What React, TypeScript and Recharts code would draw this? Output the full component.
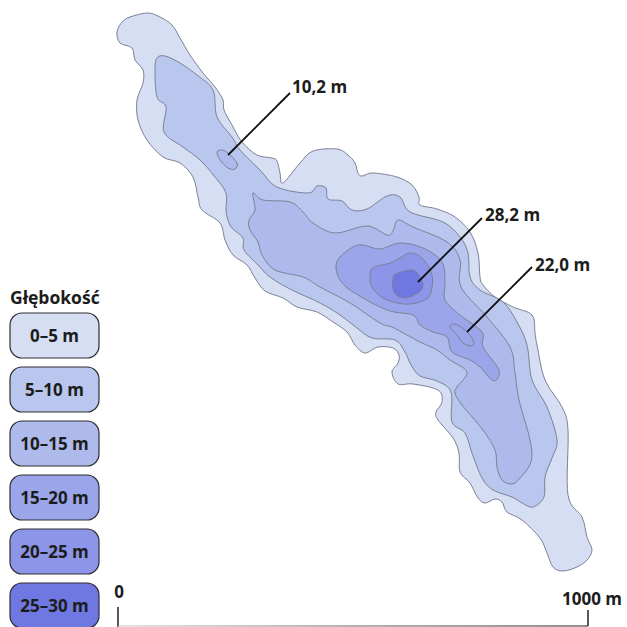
import React from 'react'
import { ScatterChart, Scatter, XAxis, YAxis, ReferenceArea, ReferenceDot } from 'recharts'

type Pt = [number, number]

const depth0: Pt[] = [
  [117,32],[123,21],[133,16],[148,13],[160,17],[172,25],[180,38],[190,55],[203,73],[215,87],[223,100],[224,110],[232,125],[242,142],[257,155],[272,158],[277,161],[280,173],[283,183],[300,163],[313,151],[337,149],[348,155],[355,163],[358,173],[362,176],[373,173],[397,177],[412,185],[419,197],[420,205],[437,209],[455,217],[470,232],[478,253],[480,277],[483,285],[495,297],[513,307],[532,315],[535,333],[537,345],[545,380],[562,407],[568,430],[568,495],[582,517],[587,537],[592,550],[587,560],[577,567],[563,571],[553,567],[547,553],[540,538],[522,520],[507,512],[502,502],[495,499],[485,503],[478,498],[470,483],[460,472],[459,453],[453,438],[438,420],[436,412],[442,402],[438,390],[413,384],[398,384],[392,372],[398,363],[399,355],[393,348],[378,347],[365,353],[355,345],[347,332],[333,322],[317,312],[297,307],[283,298],[265,291],[255,278],[247,265],[233,255],[225,240],[220,223],[202,210],[198,197],[193,177],[180,163],[163,157],[147,140],[138,120],[137,100],[143,83],[143,70],[135,60],[132,48],[120,43],
]
const depth5: Pt[] = [
  [157,58],[165,56],[180,63],[197,75],[213,90],[217,117],[232,137],[240,150],[260,170],[277,187],[308,193],[317,186],[326,188],[328,199],[342,201],[352,210],[367,209],[387,196],[400,197],[410,212],[443,222],[460,237],[468,253],[470,277],[480,290],[503,302],[517,322],[527,345],[532,380],[547,407],[557,440],[552,458],[545,477],[544,497],[533,507],[522,503],[512,497],[493,490],[482,478],[472,453],[465,433],[452,422],[451,392],[437,381],[420,376],[411,365],[405,352],[395,340],[372,338],[357,328],[340,315],[320,303],[290,289],[270,277],[258,265],[244,250],[243,238],[232,228],[228,220],[226,210],[226,193],[215,177],[200,160],[183,147],[164,132],[166,107],[157,97],[155,70],
]
const depth10: Pt[] = [
  [253,193],[263,200],[290,202],[303,212],[313,223],[335,233],[367,226],[387,235],[393,231],[398,220],[413,227],[447,242],[460,260],[461,287],[487,317],[510,347],[515,373],[519,400],[530,440],[531,462],[520,478],[512,484],[502,480],[497,467],[495,450],[483,430],[462,405],[455,393],[457,387],[467,372],[450,360],[437,350],[420,342],[407,335],[392,327],[380,323],[350,303],[320,287],[303,277],[275,270],[262,255],[258,242],[250,230],[249,220],[255,210],
]
const depth15: Pt[] = [
  [336,267],[340,257],[353,247],[363,245],[380,249],[400,243],[423,248],[442,262],[445,283],[445,300],[460,315],[482,332],[483,347],[498,368],[498,378],[492,380],[480,367],[470,360],[452,352],[447,337],[433,332],[420,325],[413,315],[387,310],[353,292],[340,280],
]
const depth20: Pt[] = [
  [370,277],[373,268],[390,263],[400,258],[410,253],[422,258],[432,275],[430,295],[420,302],[403,304],[383,298],[372,287],
]
const depth25: Pt[] = [
  [393,278],[398,273],[413,270],[420,277],[423,286],[418,293],[404,298],[394,292],
]
const pool10: Pt[] = [
  [217,152],[222,150],[228,153],[237,163],[235,169],[228,168],[220,160],
]
const pool22: Pt[] = [
  [450,327],[455,324],[465,330],[473,340],[472,346],[463,343],[457,335],
]

const contours = [depth0, depth5, depth10, depth15, depth20, depth25, pool10, pool22]
const contourColors = ['#d5def3', '#b9c6ee', '#aebaec', '#9ba6ea', '#8c95e7', '#6f78e0', '#aebaec', '#9ba6ea']

const leaders: Pt[][] = [
  [[228,155],[290,93]],
  [[418,282],[482,218]],
  [[467,332],[532,267]],
]
const depthLabels = ['10,2 m', '28,2 m', '22,0 m']
const depthLabelAt: Pt[] = [[292,87], [485,215], [535,265]]

const legendTitle = 'Głębokość'
const legendRanges = ['0–5 m', '5–10 m', '10–15 m', '15–20 m', '20–25 m', '25–30 m']
const legendColors = ['#d5def3', '#b9c6ee', '#aebaec', '#9ba6ea', '#8c95e7', '#6f78e0']
const legendTops = [313, 367, 421, 475, 529, 583]

const scaleTicks: Pt[][] = [
  [[118,607],[118,627]],
  [[588,610],[588,626]],
]
const scaleBase: Pt[] = [[118,626],[588,626]]

const FONT = '"Open Sans", sans-serif'
const toRows = (pts: Pt[]) => pts.map(([x, y]) => ({ x, y }))

// closed catmull-rom through the pixel-scaled points
const closedPath = (p: { x: number; y: number }[]) => {
  const n = p.length
  let d = `M${p[0].x},${p[0].y}`
  for (let i = 0; i < n; i++) {
    const a = p[(i - 1 + n) % n], b = p[i], c = p[(i + 1) % n], e = p[(i + 2) % n]
    const c1x = b.x + (c.x - a.x) / 6, c1y = b.y + (c.y - a.y) / 6
    const c2x = c.x - (e.x - b.x) / 6, c2y = c.y - (e.y - b.y) / 6
    d += `C${c1x},${c1y},${c2x},${c2y},${c.x},${c.y}`
  }
  return d + 'Z'
}

const Text = (value: string, anchor: 'start' | 'middle' = 'start', size = 17) => (props: any) => (
  <text x={props.cx} y={props.cy} dy="0.35em" textAnchor={anchor} fontFamily={FONT} fontWeight={700} fontSize={size} fill="#1c1c1c">{value}</text>
)

const App: React.FC = () => {
  return (
    <div style={{ position: 'absolute', left: 0, top: 0, width: 627, height: 627, overflow: 'hidden', background: '#fff' }}>
      <ScatterChart width={640} height={640} margin={{ top: 0, right: 0, bottom: 0, left: 0 }}>
        <defs>
          <linearGradient id="scaleFade" gradientUnits="userSpaceOnUse" x1="118" y1="0" x2="588" y2="0">
            <stop offset="0" stopColor="#c8c8c8" />
            <stop offset="0.5" stopColor="#666" />
            <stop offset="1" stopColor="#222" />
          </linearGradient>
        </defs>
        <XAxis type="number" dataKey="x" domain={[0, 640]} hide />
        <YAxis type="number" dataKey="y" domain={[0, 640]} reversed hide />

        {contours.map((pts, i) => (
          <Scatter
            key={i}
            data={toRows(pts)}
            shape={() => null}
            line={(props: any) => (
              <path key="contour" d={closedPath(props.points)} fill={contourColors[i]} stroke="#7c8196" strokeWidth={1} />
            )}
            isAnimationActive={false}
          />
        ))}

        {leaders.map((pts, i) => (
          <Scatter
            key={i}
            data={toRows(pts)}
            shape={() => null}
            line={{ stroke: '#111', strokeWidth: 1.8, fill: 'none' }}
            lineJointType="linear"
            isAnimationActive={false}
          />
        ))}

        {depthLabels.map((label, i) => (
          <ReferenceDot key={label} x={depthLabelAt[i][0]} y={depthLabelAt[i][1]} shape={Text(label)} />
        ))}

        <ReferenceDot x={10} y={298} shape={Text(legendTitle, 'start', 17.5)} />
        {legendRanges.map((range, i) => (
          <ReferenceArea
            key={range}
            x1={10}
            x2={99}
            y1={legendTops[i]}
            y2={legendTops[i] + 45}
            radius={12}
            fill={legendColors[i]}
            fillOpacity={1}
            stroke="#2e2e33"
            strokeWidth={1.2}
            label={{ value: range, position: 'center', fontFamily: FONT, fontWeight: 700, fontSize: 17, fill: '#1c1c1c' }}
          />
        ))}

        {scaleTicks.map((pts, i) => (
          <Scatter
            key={i}
            data={toRows(pts)}
            shape={() => null}
            line={{ stroke: '#222', strokeWidth: 1.5, fill: 'none' }}
            lineJointType="linear"
            isAnimationActive={false}
          />
        ))}
        <Scatter
          data={toRows(scaleBase)}
          shape={() => null}
          line={{ stroke: 'url(#scaleFade)', strokeWidth: 1.2, fill: 'none' }}
          lineJointType="linear"
          isAnimationActive={false}
        />
        <ReferenceDot x={119} y={592} shape={Text('0', 'middle')} />
        <ReferenceDot x={562} y={599} shape={Text('1000 m')} />
      </ScatterChart>
    </div>
  )
}

export default App
